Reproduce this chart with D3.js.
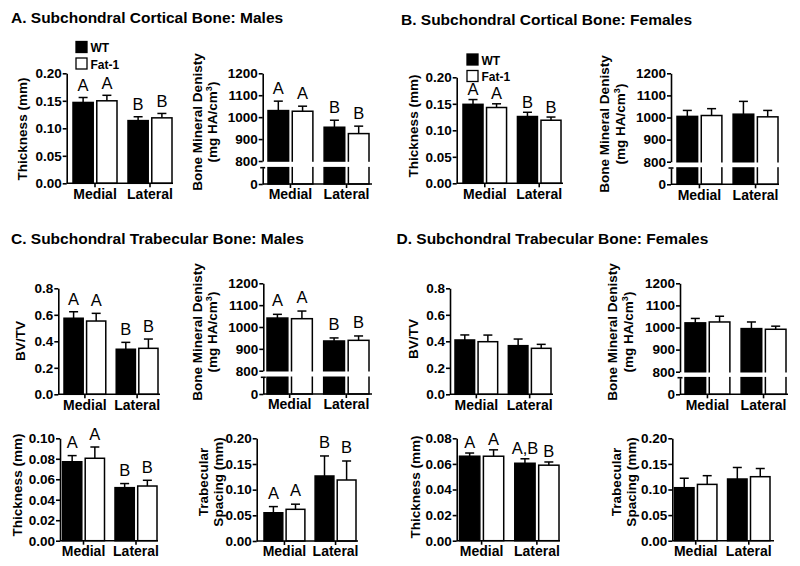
<!DOCTYPE html>
<html><head><meta charset="utf-8">
<script src="https://cdnjs.cloudflare.com/ajax/libs/d3/7.8.5/d3.min.js"></script>
<style>
body{margin:0;background:#fff;}
svg{display:block;font-family:"Liberation Sans",Arial,Helvetica,sans-serif;}
</style></head><body>
<svg id="chart" width="800" height="566"></svg>
<script>
// ---------- DATA ----------
const sites = ["Medial", "Lateral"];
const groups = ["WT", "Fat-1"];
const titles = [
  "A. Subchondral Cortical Bone: Males",
  "B. Subchondral Cortical Bone: Females",
  "C. Subchondral Trabecular Bone: Males",
  "D. Subchondral Trabecular Bone: Females"
];
// order of values: WT Medial, Fat-1 Medial, WT Lateral, Fat-1 Lateral
const aThickMean = [0.147, 0.150, 0.114, 0.119];
const aThickSem  = [0.009, 0.010, 0.007, 0.008];
const aThickSig  = ["A", "A", "B", "B"];
const aBmdMean = [1030, 1027, 954, 925];
const aBmdSem  = [43, 23, 32, 34];
const aBmdSig  = ["A", "A", "B", "B"];

const bThickMean = [0.149, 0.143, 0.126, 0.119];
const bThickSem  = [0.009, 0.007, 0.008, 0.006];
const bThickSig  = ["A", "A", "B", "B"];
const bBmdMean = [1005, 1009, 1015, 1003];
const bBmdSem  = [27, 31, 58, 29];

const cBvtvMean = [0.574, 0.553, 0.340, 0.347];
const cBvtvSem  = [0.049, 0.058, 0.052, 0.070];
const cBvtvSig  = ["A", "A", "B", "B"];
const cBmdMean = [1041, 1038, 936, 939];
const cBmdSem  = [17, 35, 14, 20];
const cBmdSig  = ["A", "A", "B", "B"];
const cThickMean = [0.0771, 0.0805, 0.0518, 0.0534];
const cThickSem  = [0.0060, 0.0110, 0.0040, 0.0056];
const cThickSig  = ["A", "A", "B", "B"];
const cSpMean = [0.055, 0.0617, 0.1266, 0.1188];
const cSpSem  = [0.012, 0.0100, 0.0390, 0.0370];
const cSpSig  = ["A", "A", "B", "B"];

const dBvtvMean = [0.410, 0.397, 0.367, 0.347];
const dBvtvSem  = [0.038, 0.050, 0.050, 0.030];
const dBmdMean = [1021, 1025, 995, 992];
const dBmdSem  = [20, 26, 30, 14];
const dThickMean = [0.066, 0.066, 0.0605, 0.059];
const dThickSem  = [0.0025, 0.0050, 0.0035, 0.0025];
const dThickSig  = ["A", "A", "A,B", "B"];
const dSpMean = [0.1035, 0.110, 0.1205, 0.125];
const dSpSem  = [0.0185, 0.017, 0.0225, 0.016];

const ticks020 = [0, 0.05, 0.10, 0.15, 0.20];
const ticks010 = [0, 0.02, 0.04, 0.06, 0.08, 0.10];
const ticks008 = [0, 0.02, 0.04, 0.06, 0.08];
const ticksBvtv = [0, 0.2, 0.4, 0.6, 0.8];
const ticksBmd = [800, 900, 1000, 1100, 1200];
const ticksBmdLow = [0];

const lblThick = ["Thickness (mm)"];
const lblBvtv = ["BV/TV"];
const lblBmd = ["Bone Mineral Denisty", "(mg HA/cm|3|)"];
const lblSp = ["Trabecular", "Spacing (mm)"];

// ---------- LAYOUT ----------
const panels = [
  {mean:aThickMean, sem:aThickSem, sig:aThickSig, gap:6.5, axisX:66.7, x0:73, x1:172, xEnd:173, y0:183.3, yTop:73.3, domain:[0,0.2], ticks:ticks020, fmt:".2f", label:lblThick, lx:[27], ly:129, legend:{x:76, y:41.5}},
  {mean:aBmdMean, sem:aBmdSem, sig:aBmdSig, gap:7.5, axisX:262.7, x0:268, x1:369, xEnd:372, y0:184, yTop:73.3, yBreak:161, yBreakLow:167.7, brk:true, domain:[800,1200], ticks:ticksBmd, fmt:"d", label:lblBmd, lx:[201.5,217], ly:122},
  {mean:bThickMean, sem:bThickSem, sig:bThickSig, gap:4.5, axisX:456.7, x0:463, x1:561, xEnd:563, y0:183.3, yTop:77.3, domain:[0,0.2], ticks:ticks020, fmt:".2f", label:lblThick, lx:[418], ly:126, legend:{x:467, y:54}},
  {mean:bBmdMean, sem:bBmdSem, sig:null, gap:6, axisX:671, x0:677, x1:778, xEnd:779, y0:184.3, yTop:73.3, yBreak:161.7, yBreakLow:168, brk:true, domain:[800,1200], ticks:ticksBmd, fmt:"d", label:lblBmd, lx:[609,624.5], ly:124},
  {mean:cBvtvMean, sem:cBvtvSem, sig:cBvtvSig, gap:7, axisX:58.3, x0:64, x1:158, xEnd:160, y0:394.3, yTop:288.3, domain:[0,0.8], ticks:ticksBvtv, fmt:".1f", label:lblBvtv, lx:[25], ly:341},
  {mean:cBmdMean, sem:cBmdSem, sig:cBmdSig, gap:8, axisX:263.3, x0:267, x1:369, xEnd:372, y0:394, yTop:283.3, yBreak:370.7, yBreakLow:377.3, brk:true, domain:[800,1200], ticks:ticksBmd, fmt:"d", label:lblBmd, lx:[201.5,217], ly:332},
  {mean:cThickMean, sem:cThickSem, sig:cThickSig, gap:7.5, axisX:60, x0:62.5, x1:157, xEnd:158, y0:540.7, yTop:438.3, domain:[0,0.10], ticks:ticks010, fmt:".2f", label:lblThick, lx:[22], ly:485},
  {mean:cSpMean, sem:cSpSem, sig:cSpSig, gap:8, axisX:256.7, x0:264, x1:356, xEnd:358, y0:541, yTop:438.3, domain:[0,0.20], ticks:ticks020, fmt:".2f", label:lblSp, lx:[207.5,223], ly:482},
  {mean:dBvtvMean, sem:dBvtvSem, sig:null, gap:6, axisX:450, x0:455, x1:551, xEnd:553, y0:394.3, yTop:288.3, domain:[0,0.8], ticks:ticksBvtv, fmt:".1f", label:lblBvtv, lx:[418], ly:339},
  {mean:dBmdMean, sem:dBmdSem, sig:null, gap:6, axisX:680, x0:685, x1:786, xEnd:788, y0:394.3, yTop:283.3, yBreak:371.7, yBreakLow:377.7, brk:true, domain:[800,1200], ticks:ticksBmd, fmt:"d", label:lblBmd, lx:[617,633], ly:332},
  {mean:dThickMean, sem:dThickSem, sig:dThickSig, gap:5, axisX:456.7, x0:459.5, x1:559, xEnd:560, y0:540.7, yTop:438.3, domain:[0,0.08], ticks:ticks008, fmt:".2f", label:lblThick, lx:[420], ly:487},
  {mean:dSpMean, sem:dSpSem, sig:null, gap:6, axisX:672.3, x0:674.5, x1:770, xEnd:774, y0:540.7, yTop:438.3, domain:[0,0.20], ticks:ticks020, fmt:".2f", label:lblSp, lx:[621,636], ly:482}
];
const titlePos = [{x:11, y:22.5}, {x:401, y:24.5}, {x:11, y:243.5}, {x:396.5, y:243.5}];
const fills = {"WT":"#000000", "Fat-1":"#ffffff"};

// ---------- DRAW ----------
const svg = d3.select("#chart");
svg.append("rect").attr("width", 800).attr("height", 566).attr("fill", "#fff");

titles.forEach((t, i) => {
  svg.append("text").attr("x", titlePos[i].x).attr("y", titlePos[i].y)
    .attr("font-size", 15.5).attr("font-weight", "bold").attr("fill", "#000").text(t);
});

function styleAxis(sel) {
  sel.selectAll(".domain").attr("stroke", "#000").attr("stroke-width", 1.6);
  sel.selectAll(".tick line").attr("stroke", "#000").attr("stroke-width", 1.6);
  sel.selectAll("text").attr("fill", "#000").attr("font-weight", "bold").attr("font-size", 13.5)
    .attr("font-family", '"Liberation Sans",Arial,sans-serif');
}

panels.forEach(p => {
  const g = svg.append("g");
  const band = d3.scaleBand().domain(sites).range([p.x0, p.x1]).paddingInner(0.2).paddingOuter(0);
  const inner = d3.scaleBand().domain(groups).range([0, band.bandwidth()]).paddingInner(0.15);
  // upper segment scale (for broken axes, 800..1200) or full scale
  const y = d3.scaleLinear().domain(p.domain).range([p.brk ? p.yBreak : p.y0, p.yTop]);
  // lower segment of a broken axis (0 .. break)
  const yLow = p.brk ? d3.scaleLinear().domain([0, p.domain[0]]).range([p.y0, p.yBreakLow]) : null;

  const data = [];
  sites.forEach((s, i) => groups.forEach((gr, j) => {
    const k = i * 2 + j;
    data.push({site: s, group: gr, mean: p.mean[k], sem: p.sem[k], sig: p.sig ? p.sig[k] : ""});
  }));
  const bw = inner.bandwidth();

  data.forEach(d => {
    const x = band(d.site) + inner(d.group);
    const cx = x + bw / 2;
    // full bar from value down to zero
    g.append("rect").attr("x", x).attr("width", bw)
      .attr("y", y(d.mean)).attr("height", p.y0 - y(d.mean))
      .attr("fill", fills[d.group]).attr("stroke", "#000").attr("stroke-width", 1.5);
    const ye = y(d.mean + d.sem);
    g.append("line").attr("x1", cx).attr("x2", cx).attr("y1", y(d.mean)).attr("y2", ye)
      .attr("stroke", "#000").attr("stroke-width", 1.5);
    g.append("line").attr("x1", cx - 4.5).attr("x2", cx + 4.5).attr("y1", ye).attr("y2", ye)
      .attr("stroke", "#000").attr("stroke-width", 1.5);
    if (d.sig) {
      g.append("text").attr("x", cx).attr("y", ye - p.gap)
        .attr("text-anchor", "middle").attr("font-size", 16.5).attr("fill", "#000").text(d.sig);
    }
  });
  if (p.brk) {
    // white gap across the broken region
    g.append("rect").attr("x", p.axisX - 8).attr("width", p.xEnd - p.axisX + 12)
      .attr("y", p.yBreak + 0.8).attr("height", yLow(p.domain[0]) - p.yBreak - 1.6)
      .attr("fill", "#fff");
  }

  // y axis
  const ya = g.append("g").attr("transform", `translate(${p.axisX},0)`)
    .call(d3.axisLeft(y).tickValues(p.ticks).tickFormat(d3.format(p.fmt)).tickSize(4).tickSizeOuter(0).tickPadding(1));
  styleAxis(ya);
  if (p.brk) {
    const yl = g.append("g").attr("transform", `translate(${p.axisX},0)`)
      .call(d3.axisLeft(yLow).tickValues(ticksBmdLow).tickFormat(d3.format("d")).tickSize(4).tickSizeOuter(0).tickPadding(1));
    styleAxis(yl);
    g.append("line").attr("x1", p.axisX - 2.5).attr("x2", p.axisX + 2.5)
      .attr("y1", p.yBreakLow).attr("y2", p.yBreakLow).attr("stroke", "#000").attr("stroke-width", 1.6);
  }
  // x axis
  const xa = g.append("g").attr("transform", `translate(0,${p.y0})`)
    .call(d3.axisBottom(band).tickSize(4).tickSizeOuter(0).tickPadding(1.5));
  styleAxis(xa);
  xa.selectAll("text").attr("font-size", 14);
  xa.select(".domain").remove();
  g.append("line").attr("x1", p.axisX).attr("x2", p.xEnd).attr("y1", p.y0).attr("y2", p.y0)
    .attr("stroke", "#000").attr("stroke-width", 1.6);

  // y label
  p.label.forEach((txt, i) => {
    const t = g.append("text").attr("transform", `translate(${p.lx[i]},${p.ly}) rotate(-90)`)
      .attr("text-anchor", "middle").attr("font-size", 13.5).attr("font-weight", "bold").attr("fill", "#000");
    const parts = txt.split("|");
    if (parts.length === 1) t.text(txt);
    else {
      t.append("tspan").text(parts[0]);
      t.append("tspan").attr("font-size", 9).attr("dy", -5).text(parts[1]);
      t.append("tspan").attr("dy", 5).text(parts[2]);
    }
  });

  // legend
  if (p.legend) {
    groups.forEach((gr, i) => {
      g.append("rect").attr("x", p.legend.x).attr("y", p.legend.y + i * 16.5).attr("width", 11).attr("height", 11)
        .attr("fill", fills[gr]).attr("stroke", "#000").attr("stroke-width", 1.3);
      g.append("text").attr("x", p.legend.x + 14.5).attr("y", p.legend.y + i * 16.5 + 10.5)
        .attr("font-size", 12).attr("font-weight", "bold").attr("fill", "#000").text(gr);
    });
  }
});
</script>
</body></html>
